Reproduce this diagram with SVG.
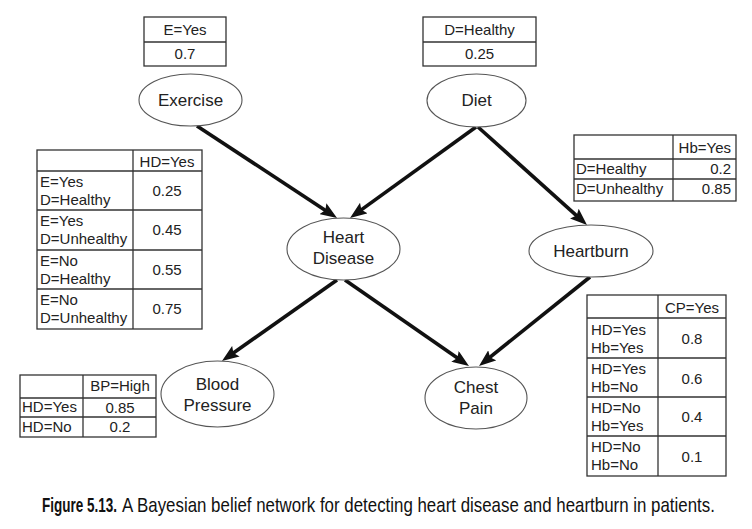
<svg xmlns="http://www.w3.org/2000/svg" width="752" height="529" viewBox="0 0 752 529">
<style>
  .tb { fill: #fff; stroke: #333; stroke-width: 1.3; }
  .tl { stroke: #333; stroke-width: 1.3; }
  .nd { fill: #fff; stroke: #555; stroke-width: 1.1; }
  .t { font-family: "Liberation Sans", Arial, sans-serif; font-size: 15px; fill: #222; }
  .n { font-family: "Liberation Sans", Arial, sans-serif; font-size: 17px; fill: #222; text-anchor: middle; }
  .c { text-anchor: middle; }
  .r { text-anchor: end; }
  .cap { font-family: "Liberation Sans", Arial, sans-serif; font-size: 20px; fill: #111; }
  .arr { stroke: #111; stroke-width: 3.6; fill: none; marker-end: url(#ah); }
</style>
<defs>
  <marker id="ah" markerUnits="userSpaceOnUse" markerWidth="17" markerHeight="13" refX="10" refY="6.5" orient="auto">
    <path d="M0,0 L17,6.5 L0,13 L3,6.5 z" fill="#111"/>
  </marker>
</defs>
<rect width="752" height="529" fill="#fff"/>

<g id="connectors">
  <line class="arr" x1="197" y1="126" x2="331.2" y2="214.2"/>
  <line class="arr" x1="476" y1="127" x2="355.7" y2="213.9"/>
  <line class="arr" x1="478" y1="127" x2="581.8" y2="220.3"/>
  <line class="arr" x1="337" y1="280" x2="227.7" y2="357"/>
  <line class="arr" x1="345" y1="280" x2="463.2" y2="362"/>
  <line class="arr" x1="590" y1="277" x2="484.5" y2="361.6"/>
</g>

<g id="table-exercise">
  <rect class="tb" x="144" y="17" width="82" height="49"/>
  <line class="tl" x1="144" y1="42" x2="226" y2="42"/>
  <text class="t c" x="185" y="35">E=Yes</text>
  <text class="t c" x="185" y="59">0.7</text>
</g>

<g id="table-diet">
  <rect class="tb" x="423" y="17" width="113" height="49"/>
  <line class="tl" x1="423" y1="42" x2="536" y2="42"/>
  <text class="t c" x="479.5" y="35">D=Healthy</text>
  <text class="t c" x="479.5" y="59">0.25</text>
</g>

<g id="node-exercise">
  <ellipse class="nd" cx="190.5" cy="100" rx="51.5" ry="26"/>
  <text class="n" x="190.5" y="106">Exercise</text>
</g>

<g id="node-diet">
  <ellipse class="nd" cx="476.5" cy="100.5" rx="49.5" ry="26.5"/>
  <text class="n" x="476.5" y="106">Diet</text>
</g>

<g id="table-hd">
  <rect class="tb" x="37" y="150" width="165" height="179"/>
  <line class="tl" x1="133" y1="150" x2="133" y2="329"/>
  <line class="tl" x1="37" y1="171" x2="202" y2="171"/>
  <line class="tl" x1="37" y1="210" x2="202" y2="210"/>
  <line class="tl" x1="37" y1="250" x2="202" y2="250"/>
  <line class="tl" x1="37" y1="289" x2="202" y2="289"/>
  <text class="t c" x="167" y="167">HD=Yes</text>
  <text class="t" x="40" y="187">E=Yes</text>
  <text class="t" x="40" y="205">D=Healthy</text>
  <text class="t c" x="167" y="196">0.25</text>
  <text class="t" x="40" y="226">E=Yes</text>
  <text class="t" x="40" y="244">D=Unhealthy</text>
  <text class="t c" x="167" y="235">0.45</text>
  <text class="t" x="40" y="266">E=No</text>
  <text class="t" x="40" y="284">D=Healthy</text>
  <text class="t c" x="167" y="275">0.55</text>
  <text class="t" x="40" y="305">E=No</text>
  <text class="t" x="40" y="323">D=Unhealthy</text>
  <text class="t c" x="167" y="314">0.75</text>
</g>

<g id="table-hb">
  <rect class="tb" x="574" y="135" width="162" height="66"/>
  <line class="tl" x1="673" y1="135" x2="673" y2="201"/>
  <line class="tl" x1="574" y1="159" x2="736" y2="159"/>
  <line class="tl" x1="574" y1="179" x2="736" y2="179"/>
  <text class="t r" x="731" y="153">Hb=Yes</text>
  <text class="t" x="576" y="174">D=Healthy</text>
  <text class="t r" x="731" y="174">0.2</text>
  <text class="t" x="576" y="194">D=Unhealthy</text>
  <text class="t r" x="731" y="194">0.85</text>
</g>

<g id="node-heart-disease">
  <ellipse class="nd" cx="343.5" cy="249" rx="56.5" ry="31"/>
  <text class="n" x="343.5" y="243">Heart</text>
  <text class="n" x="343.5" y="264">Disease</text>
</g>

<g id="node-heartburn">
  <ellipse class="nd" cx="591" cy="251" rx="62" ry="26"/>
  <text class="n" x="591" y="257">Heartburn</text>
</g>

<g id="table-cp">
  <rect class="tb" x="587" y="295" width="139" height="181"/>
  <line class="tl" x1="658" y1="295" x2="658" y2="476"/>
  <line class="tl" x1="587" y1="318" x2="726" y2="318"/>
  <line class="tl" x1="587" y1="358" x2="726" y2="358"/>
  <line class="tl" x1="587" y1="397" x2="726" y2="397"/>
  <line class="tl" x1="587" y1="436" x2="726" y2="436"/>
  <text class="t c" x="692" y="313">CP=Yes</text>
  <text class="t" x="591" y="335">HD=Yes</text>
  <text class="t" x="591" y="353">Hb=Yes</text>
  <text class="t c" x="692" y="344">0.8</text>
  <text class="t" x="591" y="374">HD=Yes</text>
  <text class="t" x="591" y="392">Hb=No</text>
  <text class="t c" x="692" y="384">0.6</text>
  <text class="t" x="591" y="413">HD=No</text>
  <text class="t" x="591" y="431">Hb=Yes</text>
  <text class="t c" x="692" y="422">0.4</text>
  <text class="t" x="591" y="452">HD=No</text>
  <text class="t" x="591" y="470">Hb=No</text>
  <text class="t c" x="692" y="462">0.1</text>
</g>

<g id="table-bp">
  <rect class="tb" x="20" y="375" width="136" height="62"/>
  <line class="tl" x1="83" y1="375" x2="83" y2="437"/>
  <line class="tl" x1="20" y1="398" x2="156" y2="398"/>
  <line class="tl" x1="20" y1="417" x2="156" y2="417"/>
  <text class="t c" x="120" y="391">BP=High</text>
  <text class="t" x="22" y="412">HD=Yes</text>
  <text class="t c" x="120" y="413">0.85</text>
  <text class="t" x="22" y="432">HD=No</text>
  <text class="t c" x="120" y="432">0.2</text>
</g>

<g id="node-blood-pressure">
  <ellipse class="nd" cx="217.5" cy="394" rx="56.5" ry="33"/>
  <text class="n" x="217.5" y="390">Blood</text>
  <text class="n" x="217.5" y="411">Pressure</text>
</g>

<g id="node-chest-pain">
  <ellipse class="nd" cx="476" cy="398" rx="51" ry="31"/>
  <text class="n" x="476" y="393">Chest</text>
  <text class="n" x="476" y="414">Pain</text>
</g>

<g id="caption">
  <text class="cap" transform="translate(42,512) scale(0.675,1)" font-weight="bold">Figure 5.13.</text>
  <text class="cap" transform="translate(122,512) scale(0.844,1)">A Bayesian belief network for detecting heart disease and heartburn in patients.</text>
</g>
</svg>
